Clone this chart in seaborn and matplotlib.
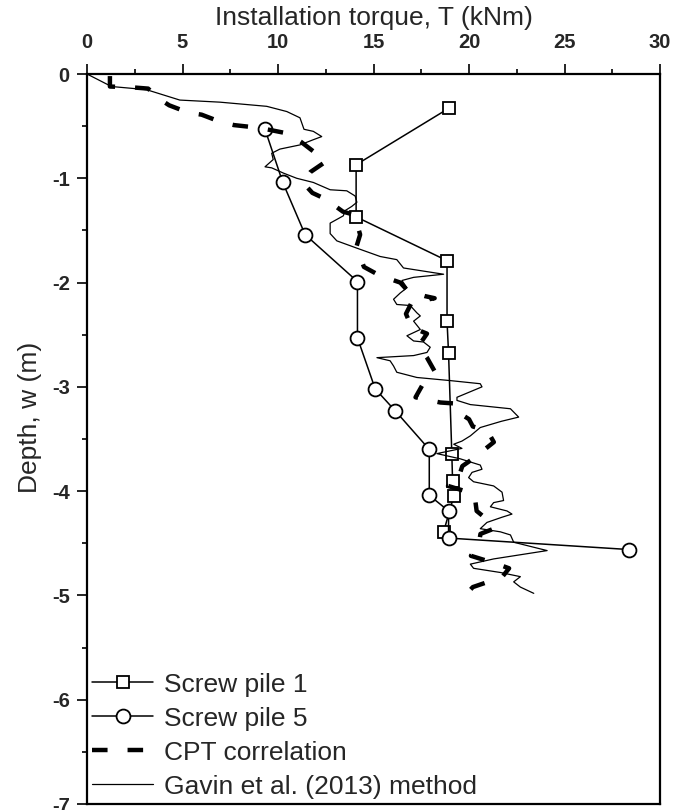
import numpy as np
import pandas as pd
import matplotlib
matplotlib.use("Agg")
import matplotlib.pyplot as plt
from matplotlib.ticker import MultipleLocator
import seaborn as sns

# Screw pile 1 (squares)
sp1_T = [18.93, 14.09, 14.09, 18.85, 18.85, 18.93, 19.10, 19.14, 19.20, 18.67]
sp1_w = [-0.33, -0.87, -1.37, -1.79, -2.37, -2.68, -3.64, -3.90, -4.05, -4.39]

# Screw pile 5 (circles)
sp5_T = [9.32, 10.25, 11.42, 14.16, 14.16, 15.09, 16.14, 17.92, 17.92, 18.93, 18.93, 28.38]
sp5_w = [-0.53, -1.04, -1.54, -1.99, -2.53, -3.02, -3.23, -3.60, -4.04, -4.19, -4.45, -4.56]

# CPT correlation
cpt_T = [1.2, 1.2, 2.5, 3.2, 3.8, 4.3, 5.3, 6.0, 7.0, 7.7, 8.7, 9.4, 10.5, 11.2, 12.05, 12.5,
         11.7, 11.3, 11.8, 12.5, 13.4, 14.0, 14.3, 14.1, 14.5, 15.3, 16.4, 16.8, 17.7, 18.2,
         17.0, 16.7, 17.0, 17.8, 17.35, 17.8, 18.2, 17.6, 17.2, 18.5, 19.3, 19.4, 20.0, 20.2,
         20.96, 21.3, 20.75, 20.2, 19.65, 19.4, 18.9, 19.8, 20.3, 20.4, 21.0, 21.3, 20.6, 20.5,
         20.1, 21.5, 22.1, 21.75, 21.0, 20.2, 19.9]
cpt_w = [-0.02, -0.12, -0.13, -0.14, -0.24, -0.30, -0.37, -0.39, -0.46, -0.49, -0.51, -0.53,
         -0.57, -0.65, -0.77, -0.84, -0.94, -1.04, -1.14, -1.20, -1.32, -1.35, -1.54, -1.66,
         -1.85, -1.93, -2.00, -2.08, -2.13, -2.15, -2.19, -2.30, -2.43, -2.49, -2.61, -2.72,
         -2.85, -2.97, -3.10, -3.15, -3.16, -3.24, -3.31, -3.38, -3.42, -3.53, -3.61, -3.69,
         -3.76, -3.90, -3.95, -4.00, -4.05, -4.19, -4.28, -4.36, -4.41, -4.52, -4.62, -4.70,
         -4.74, -4.82, -4.87, -4.92, -4.98]

# Gavin et al. (2013) method
gav_T = [0.0, 1.28, 3.11, 4.86, 6.96, 9.41, 10.46, 11.15, 11.36, 11.85, 12.29, 11.85, 11.15,
         10.1, 9.67, 9.75, 9.32, 9.67, 10.28, 10.98, 11.85, 12.73, 13.6, 14.04, 14.13, 13.86,
         13.51, 13.42, 12.73, 12.73, 13.08, 14.13, 15.35, 16.22, 16.57, 17.62, 18.67, 17.1,
         16.49, 16.75, 16.4, 16.05, 16.22, 16.92, 17.27, 17.45, 17.1, 17.45, 16.75, 17.1, 17.62,
         17.97, 17.8, 17.1, 15.18, 15.87, 16.05, 16.22, 17.27, 19.02, 20.59, 20.68, 19.37, 19.37,
         20.07, 22.17, 22.6, 21.7, 20.59, 20.07, 19.63, 19.2, 19.63, 18.32, 19.54, 20.59, 20.68,
         20.16, 19.98, 20.24, 21.29, 21.73, 21.81, 21.29, 21.12, 21.99, 22.25, 21.73, 20.94,
         20.59, 21.64, 22.17, 22.34, 24.09, 21.29, 20.07, 20.24, 21.64, 22.69, 22.34, 22.69, 23.39]
gav_w = [0.0, -0.12, -0.15, -0.25, -0.27, -0.31, -0.36, -0.42, -0.53, -0.55, -0.60, -0.63, -0.68,
         -0.72, -0.76, -0.82, -0.89, -0.90, -0.95, -1.00, -1.04, -1.11, -1.12, -1.17, -1.23, -1.27,
         -1.31, -1.36, -1.43, -1.53, -1.60, -1.67, -1.75, -1.78, -1.86, -1.89, -1.92, -1.95,
         -1.98, -2.05, -2.10, -2.16, -2.21, -2.22, -2.29, -2.32, -2.37, -2.45, -2.51, -2.56, -2.57,
         -2.62, -2.67, -2.70, -2.72, -2.75, -2.80, -2.86, -2.91, -2.94, -2.97, -3.00, -3.10, -3.13,
         -3.17, -3.21, -3.29, -3.33, -3.39, -3.47, -3.52, -3.55, -3.59, -3.64, -3.69, -3.75, -3.79,
         -3.82, -3.87, -3.91, -3.95, -4.01, -4.09, -4.11, -4.15, -4.19, -4.22, -4.25, -4.30,
         -4.36, -4.39, -4.42, -4.49, -4.57, -4.65, -4.70, -4.74, -4.78, -4.82, -4.87, -4.92, -4.98]

sns.set_theme(style="white")
plt.rcParams["font.family"] = ["Liberation Sans", "DejaVu Sans"]
plt.rcParams["axes.unicode_minus"] = False

fig = plt.figure(figsize=(6.88, 8.10), dpi=100)
ax = fig.add_axes([87 / 688, 6 / 810, 573 / 688, 730 / 810])

sns.lineplot(x=sp1_T, y=sp1_w, sort=False, estimator=None, ax=ax, color="black", lw=1.1,
             marker="s", markersize=9, markerfacecolor="white", markeredgecolor="black",
             markeredgewidth=1.3, label="Screw pile 1")
sns.lineplot(x=sp5_T, y=sp5_w, sort=False, estimator=None, ax=ax, color="black", lw=1.1,
             marker="o", markersize=10, markerfacecolor="white", markeredgecolor="black",
             markeredgewidth=1.3, label="Screw pile 5")
sns.lineplot(x=cpt_T, y=cpt_w, sort=False, estimator=None, ax=ax, color="black", lw=3.2,
             linestyle=(0, (3.5, 4.5)), label="CPT correlation")
sns.lineplot(x=gav_T, y=gav_w, sort=False, estimator=None, ax=ax, color="black", lw=0.9,
             label="Gavin et al. (2013) method")

ax.set_xlim(0, 30)
ax.set_ylim(-7, 0)
ax.xaxis.tick_top()
ax.xaxis.set_label_position("top")
ax.xaxis.set_major_locator(MultipleLocator(5))
ax.xaxis.set_minor_locator(MultipleLocator(2.5))
ax.yaxis.set_major_locator(MultipleLocator(1))
ax.yaxis.set_minor_locator(MultipleLocator(0.5))
ax.tick_params(which="both", direction="out", color="black", width=1.2,
               top=True, bottom=False, left=True, right=False)
ax.tick_params(which="major", length=7.5)
ax.tick_params(which="minor", length=3.5)
ax.tick_params(axis="x", which="major", pad=8, labelsize=14.5)
ax.tick_params(axis="y", which="major", pad=5, labelsize=14.5)
for lab in ax.get_xticklabels() + ax.get_yticklabels():
    lab.set_fontweight("bold")

for sp in ax.spines.values():
    sp.set_color("black")
    sp.set_linewidth(1.6)

ax.set_xlabel("Installation torque, T (kNm)", fontsize=19, labelpad=6)
ax.set_ylabel("Depth, w (m)", fontsize=19)
ax.yaxis.set_label_coords(-0.078, 0.53)

ax.legend(loc="lower left", bbox_to_anchor=(0, 0), frameon=False, fontsize=19,
          handlelength=2.3, handletextpad=0.4, labelspacing=0.38, borderaxespad=0.0,
          borderpad=0.2)

fig.savefig("out.png", dpi=100)
